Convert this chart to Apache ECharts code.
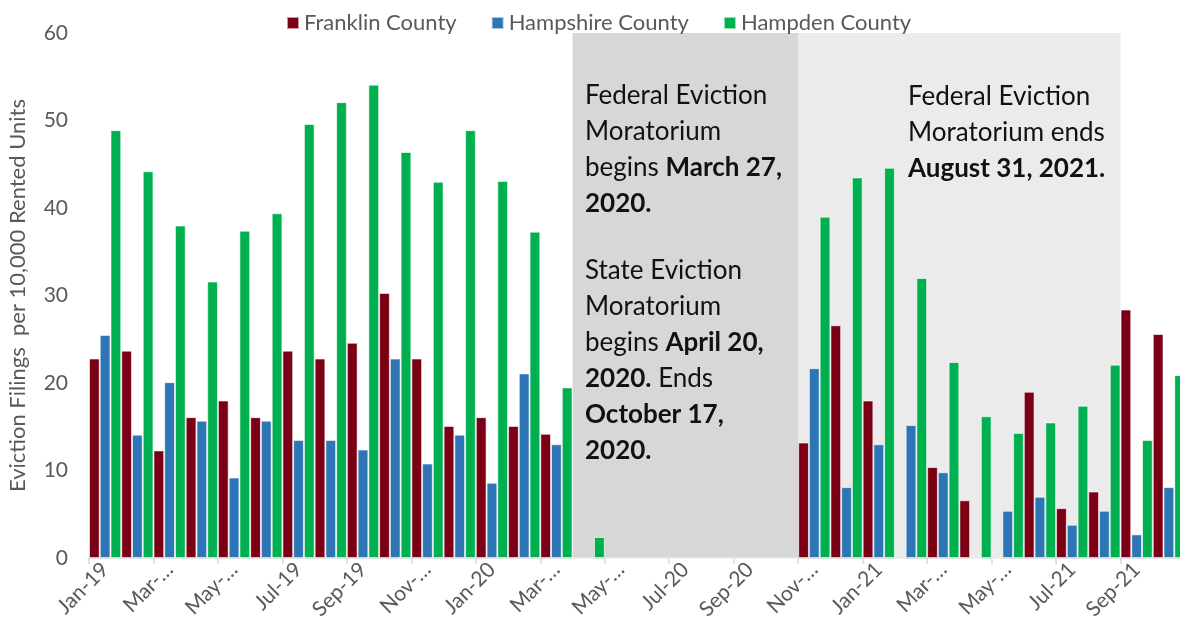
<!DOCTYPE html>
<html>
<head>
<meta charset="utf-8">
<script src="https://cdn.jsdelivr.net/npm/echarts@6/dist/echarts.min.js"></script>
<style>
html,body{margin:0;padding:0;background:#fff;}
#chart{width:1180px;height:637px;}
</style>
</head>
<body>
<div id="chart"></div>
<script>
const categories = ['Jan-19','Feb-19','Mar-19','Apr-19','May-19','Jun-19','Jul-19','Aug-19','Sep-19','Oct-19','Nov-19','Dec-19',
  'Jan-20','Feb-20','Mar-20','Apr-20','May-20','Jun-20','Jul-20','Aug-20','Sep-20','Oct-20','Nov-20','Dec-20',
  'Jan-21','Feb-21','Mar-21','Apr-21','May-21','Jun-21','Jul-21','Aug-21','Sep-21','Oct-21'];
const tickLabels = ['Jan-19','Mar-…','May-…','Jul-19','Sep-19','Nov-…','Jan-20','Mar-…','May-…','Jul-20','Sep-20','Nov-…','Jan-21','Mar-…','May-…','Jul-21','Sep-21'];
const franklin = [22.8,23.7,12.3,16.1,18.0,16.1,23.7,22.8,24.6,30.3,22.8,15.1,
  16.1,15.1,14.2,0,0,0,0,0,0,0,13.2,26.6,
  18.0,0,10.4,6.6,0,19.0,5.7,7.6,28.4,25.6];
const hampshire = [25.5,14.1,20.1,15.7,9.2,15.7,13.5,13.5,12.4,22.8,10.8,14.1,
  8.6,21.1,13.0,0,0,0,0,0,0,0,21.7,8.1,
  13.0,15.2,9.8,0,5.4,7.0,3.8,5.4,2.7,8.1];
const hampden = [48.9,44.2,38.0,31.6,37.4,39.4,49.6,52.1,54.1,46.4,43.0,48.9,
  43.1,37.3,19.5,2.4,0,0,0,0,0,0,39.0,43.5,
  44.6,32.0,22.4,16.2,14.3,15.5,17.4,22.1,13.5,20.9];
const seriesNames = ['Franklin County','Hampshire County','Hampden County'];
const yTicks = {min:0, max:60, interval:10};
const stateRange = ['Apr-20','Oct-20'];
const federalRange = ['Nov-20','Aug-21'];

const colors = ['#7B0016','#2E75B6','#00B050'];
const chart = echarts.init(document.getElementById('chart'));
const fontFam = 'Lato, "Open Sans", sans-serif';
const annFont = 'Lato, "DejaVu Sans", sans-serif';

function barSeries(name, data, color){
  return {
    name, type:'bar', data, xAxisIndex:0, yAxisIndex:0,
    barGap:'0%', barCategoryGap:'0%', z:2,
    itemStyle:{color, borderColor:'rgba(255,255,255,0.6)', borderWidth:1}
  };
}
const rich = {
  n:{fontSize:26, fontFamily:annFont, fill:'#111', color:'#111', lineHeight:36},
  b:{fontSize:26, fontFamily:annFont, fontWeight:'bold', fill:'#111', color:'#111', lineHeight:36}
};
function ann(left, top, text){
  return {type:'text', left, top, z:100, style:{text, rich, fontSize:26, fontFamily:annFont, fill:'#111', lineHeight:36}};
}

const option = {
  animation:false,
  color: colors,
  legend:{
    data: seriesNames, top:7, left:281, itemWidth:12, itemHeight:12, itemGap:34, icon:'rect',
    textStyle:{fontSize:22, color:'#595959', fontFamily:fontFam}
  },
  grid:{left:89, top:33, width:1096, height:525, outerBoundsMode:'none', containLabel:false},
  xAxis:[{
    type:'category', data:categories,
    axisLine:{lineStyle:{color:'#D9D9D9', width:1.5}},
    axisTick:{show:true, interval:1, length:6, lineStyle:{color:'#D9D9D9', width:1.5}},
    axisLabel:{interval:1, rotate:45, color:'#595959', fontSize:21, fontFamily:fontFam, margin:8,
      formatter:(v,i)=> (i%2===0 ? tickLabels[i/2] : '')}
  },{
    type:'value', min:0, max:categories.length, show:false
  }],
  yAxis:{
    type:'value', min:yTicks.min, max:yTicks.max, interval:yTicks.interval,
    splitLine:{show:false}, axisLine:{show:false}, axisTick:{show:false},
    axisLabel:{color:'#595959', fontSize:21, fontFamily:fontFam, margin:21},
    name:'Eviction Filings  per 10,000 Rented Units', nameLocation:'middle', nameGap:60,
    nameTextStyle:{color:'#595959', fontSize:22, fontFamily:fontFam}
  },
  series:[
    barSeries(seriesNames[0], franklin, colors[0]),
    barSeries(seriesNames[1], hampshire, colors[1]),
    barSeries(seriesNames[2], hampden, colors[2]),
    {
      type:'line', xAxisIndex:1, yAxisIndex:0, data:[], z:5, silent:true,
      markArea:{silent:true, data:[
        [{xAxis:categories.indexOf(stateRange[0]), itemStyle:{color:'rgba(191,191,191,0.63)'}},
         {xAxis:categories.indexOf(stateRange[1])+1}],
        [{xAxis:categories.indexOf(federalRange[0]), itemStyle:{color:'rgba(128,128,128,0.16)'}},
         {xAxis:categories.indexOf(federalRange[1])+1}]
      ]}
    }
  ],
  graphic:[
    ann(585, 78, '{n|Federal Eviction}\n{n|Moratorium}\n{n|begins }{b|March 27,}\n{b|2020.}'),
    ann(585, 253, '{n|State Eviction}\n{n|Moratorium}\n{n|begins }{b|April 20,}\n{b|2020.}{n| Ends}\n{b|October 17,}\n{b|2020.}'),
    ann(908, 79, '{n|Federal Eviction}\n{n|Moratorium ends}\n{b|August 31, 2021.}')
  ]
};
chart.setOption(option);
</script>
</body>
</html>
